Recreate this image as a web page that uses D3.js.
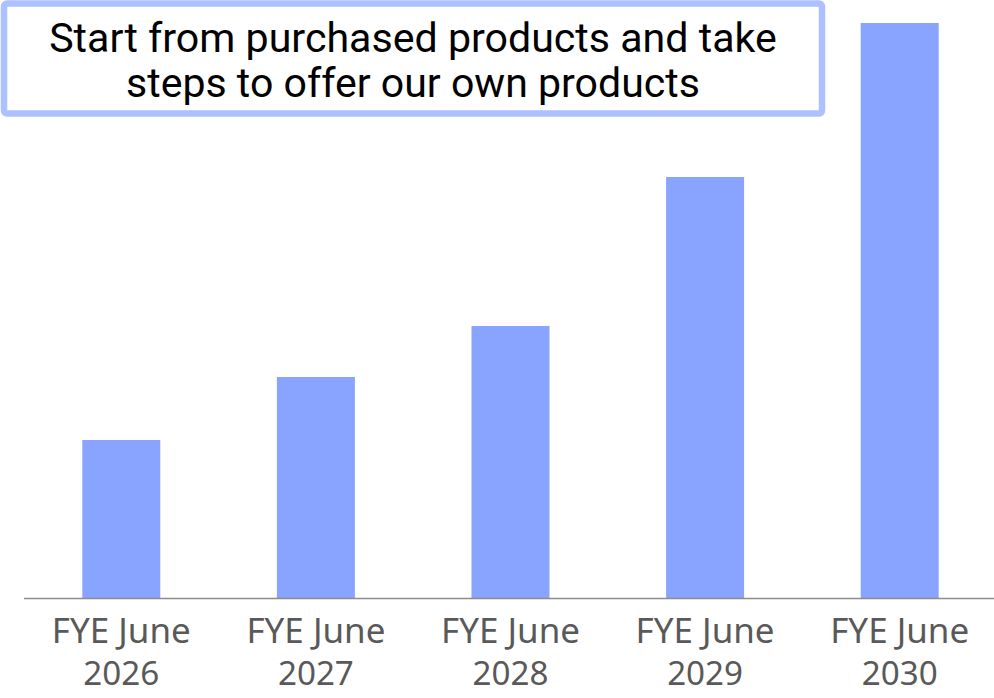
<!DOCTYPE html>
<html><head><meta charset="utf-8">
<script src="https://cdn.jsdelivr.net/npm/d3@7"></script>
<style>html,body{margin:0;padding:0;background:#fff;}svg{display:block;}</style>
</head><body>
<script>
const categories = ["FYE June 2026","FYE June 2027","FYE June 2028","FYE June 2029","FYE June 2030"];
const labelLines = [["FYE June","2026"],["FYE June","2027"],["FYE June","2028"],["FYE June","2029"],["FYE June","2030"]];
const values = [159, 222, 273, 422, 576];
const titleLines = ["Start from purchased products and take","steps to offer our own products"];

const W = 994, H = 698;
const svg = d3.select("body").append("svg").attr("width", W).attr("height", H);
const font = "'Noto Sans', 'DejaVu Sans', sans-serif";
const titleFont = "Roboto, 'Noto Sans', sans-serif";

const x = d3.scaleBand().domain(categories).range([24, 997]).paddingInner(0.6).paddingOuter(0.3);
const y = d3.scaleLinear().domain([0, 576]).range([599, 23]);

svg.selectAll("rect.bar").data(values).join("rect")
  .attr("class","bar")
  .attr("x",(d,i)=>x(categories[i]) + x.bandwidth()/2 - 39)
  .attr("width",78)
  .attr("y",d=>y(d))
  .attr("height",d=>y(0)-y(d))
  .attr("fill","#89A4FF");

svg.append("line").attr("x1",24).attr("x2",W).attr("y1",598.5).attr("y2",598.5)
  .attr("stroke","#8c8c8c").attr("stroke-width",1.5);

function fit(t, target){
  const w = t.node().getComputedTextLength();
  const fs = parseFloat(t.attr("font-size"));
  t.attr("font-size", fs*target/w);
}

const lab = svg.append("g");
categories.forEach((c,i)=>{
  const cx = x(c) + x.bandwidth()/2;
  const t = lab.append("text").attr("text-anchor","middle").attr("font-family",font)
    .attr("fill","#595959");
  labelLines[i].forEach((l,j)=>{
    const s = t.append("tspan").attr("x",cx).attr("y",643 + j*42).attr("font-size",28).text(l);
    fit(s, j===0 ? 139 : 76);
  });
});

svg.append("rect").attr("x",4).attr("y",3.5).attr("width",818).attr("height",110)
  .attr("rx",3).attr("fill","#fff").attr("stroke","#ADC0FF").attr("stroke-width",6.5);
const targets=[728,574];
titleLines.forEach((l,i)=>{
  const t = svg.append("text").attr("text-anchor","middle").attr("font-family",titleFont).attr("fill","#000")
    .attr("x",413).attr("y",52 + i*45).attr("font-size",36).text(l);
  fit(t,targets[i]);
});
</script>
</body></html>
